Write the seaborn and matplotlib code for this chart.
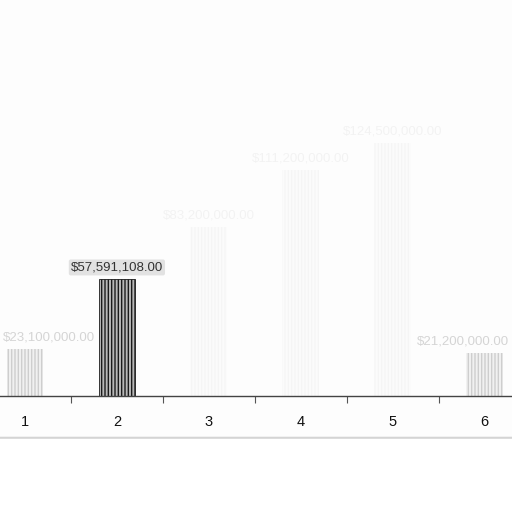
import pandas as pd
import seaborn as sns
import matplotlib
matplotlib.use("Agg")
import matplotlib.pyplot as plt
from matplotlib.patches import FancyBboxPatch

# values (only bar 2 has a readable label)
categories = ["1", "2", "3", "4", "5", "6"]
amounts = [23100000, 57591108, 83200000, 111200000, 124500000, 21200000]
highlight = "2"

df = pd.DataFrame({"category": categories, "amount": amounts})

sns.set_theme(style="white")
plt.rcParams["font.family"] = ["Liberation Sans", "DejaVu Sans"]
plt.rcParams["hatch.linewidth"] = 1.0

fig = plt.figure(figsize=(5.12, 5.12), dpi=100)
fig.patch.set_facecolor("white")

# light panel behind the chart, with a soft shadow line at the bottom
fig.patches.append(FancyBboxPatch((-0.02, 0.145), 1.04, 0.9, boxstyle="round,pad=0,rounding_size=0.02",
                                  transform=fig.transFigure, facecolor="#fdfdfd",
                                  edgecolor="#d4d4d4", linewidth=1.5, zorder=-5))

ax = fig.add_axes([0, 1 - 396 / 512, 1, 396 / 512])
ax.set_facecolor("none")
ax.set_zorder(2)

sns.barplot(data=df, x="category", y="amount", width=0.4, color="#b8b8b8", ax=ax)

for bar, cat in zip(ax.patches, categories):
    bar.set_hatch("|||||")
    bar.set_edgecolor("#1a1a1a")
    if cat == highlight:
        bar.set_linewidth(0.6)
        bar.set_alpha(1.0)
    elif cat in ("1", "6"):
        bar.set_linewidth(0)
        bar.set_alpha(0.16)
    else:
        bar.set_linewidth(0)
        bar.set_alpha(0.025)

# label on highlighted bar
idx = categories.index(highlight)
ax.annotate("${:,.2f}".format(amounts[idx]), xy=(idx, amounts[idx]), xytext=(0, 4),
            textcoords="offset points", ha="center", va="bottom", fontsize=9.5, color="#333333",
            bbox=dict(boxstyle="round,pad=0.15", facecolor="#e2e2e2", edgecolor="none"))
# faded labels on other bars (end ones nudged to stay inside the picture)
for i, (cat, v) in enumerate(zip(categories, amounts)):
    if cat == highlight:
        continue
    a = 0.2 if cat in ("1", "6") else 0.05
    ha = "center"
    dx = 0
    if i == 0:
        ha, dx = "left", -16
    elif i == len(categories) - 1:
        ha, dx = "right", 18
    ax.annotate("${:,.2f}".format(v), xy=(i, v), xytext=(dx, 4), textcoords="offset points",
                ha=ha, va="bottom", fontsize=9.5, color="#333333", alpha=a)

unit = 512 / 91.9
left = -25 / 91.9
ax.set_xlim(left, left + unit)
ax.set_ylim(0, 396 / 117 * amounts[idx])

sns.despine(ax=ax, left=True, top=True, right=True)
ax.spines["bottom"].set_color("#444444")
ax.spines["bottom"].set_linewidth(1.0)
ax.set_yticks([])
ax.set_xlabel("")
ax.set_ylabel("")
ax.tick_params(axis="x", which="major", length=0, pad=14, labelsize=10.5, labelcolor="#111111")
ax.set_xticks([i + 0.5 for i in range(len(categories) - 1)], minor=True)
ax.tick_params(axis="x", which="minor", length=5, width=0.8, color="#555555", direction="out", bottom=True)

fig.savefig("out.png", dpi=100)
